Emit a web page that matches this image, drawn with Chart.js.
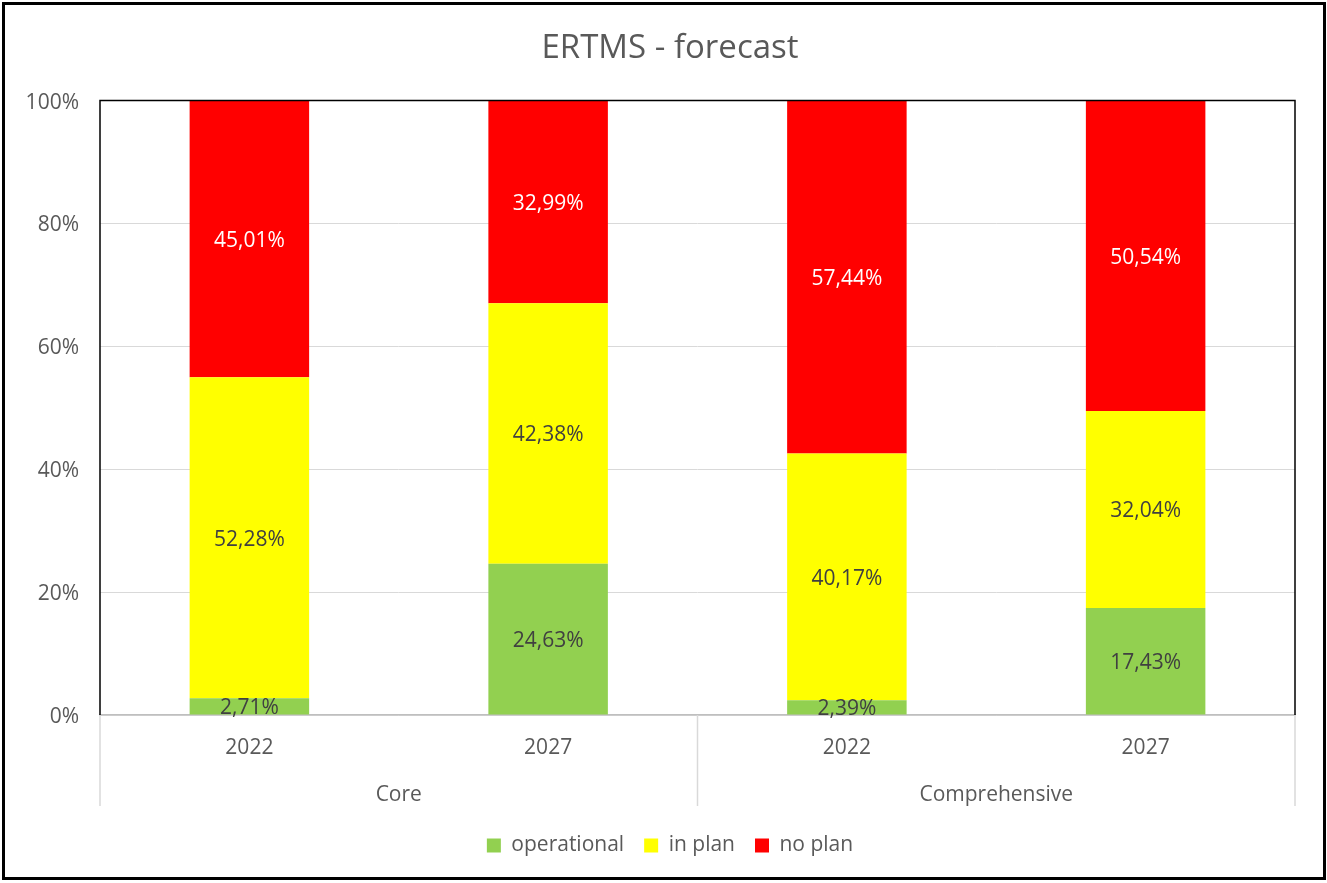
<!DOCTYPE html>
<html>
<head>
<meta charset="utf-8">
<script src="https://cdn.jsdelivr.net/npm/chart.js@4.4.0/dist/chart.umd.min.js"></script>
<style>
html,body{margin:0;padding:0;background:#fff;}
#wrap{position:absolute;left:2px;top:2px;width:1324px;height:878px;border:3px solid #000;box-sizing:border-box;background:#fff;}
#wrap canvas{display:block;}
</style>
</head>
<body>
<div id="wrap"><canvas id="c"></canvas></div>
<script>
const years=["2022","2027","2022","2027"];
const groups=["Core","Comprehensive"];
const operational=[2.71,24.63,2.39,17.43];
const inPlan=[52.28,42.38,40.17,32.04];
const noPlan=[45.01,32.99,57.44,50.54];
const yTicks=[0,20,40,60,80,100];

const FONT="'Open Sans', sans-serif";
const GREY="#595959";
const SEP_DEPTH=91; // separator lines below the plot

// value labels in the middle of each segment
const segLabels={
  id:"segLabels",
  afterDatasetsDraw(ch){
    const ctx=ch.ctx;
    ctx.save();
    ctx.font="21px "+FONT;
    ctx.textAlign="center";ctx.textBaseline="middle";
    ch.data.datasets.forEach((ds,i)=>{
      const meta=ch.getDatasetMeta(i);
      meta.data.forEach((el,j)=>{
        const v=ds.data[j];
        ctx.fillStyle=ds.labelColor;
        ctx.fillText(v.toFixed(2).replace(".",",")+"%",el.x,(el.y+el.base)/2+2);
      });
    });
    ctx.restore();
  }
};

// black frame on top/left/right of plot + group separators below axis
const frame={
  id:"frame",
  afterDraw(ch){
    const ctx=ch.ctx,a=ch.chartArea,xs=ch.scales.x;
    ctx.save();
    ctx.strokeStyle="#D9D9D9";ctx.lineWidth=1.5;
    const mid=(xs.getPixelForValue(1)+xs.getPixelForValue(2))/2;
    [xs.left,mid,xs.right].forEach(px=>{
      ctx.beginPath();ctx.moveTo(px,a.bottom);ctx.lineTo(px,a.bottom+SEP_DEPTH);ctx.stroke();
    });
    ctx.strokeStyle="#000";ctx.lineWidth=1.5;
    ctx.beginPath();
    ctx.moveTo(a.left,a.bottom);ctx.lineTo(a.left,a.top);ctx.lineTo(a.right,a.top);ctx.lineTo(a.right,a.bottom);
    ctx.stroke();
    ctx.restore();
  }
};

new Chart(document.getElementById("c"),{
  type:"bar",
  data:{
    labels:years,
    datasets:[
      {label:"operational",data:operational,backgroundColor:"#92D050",labelColor:"#404040"},
      {label:"in plan",data:inPlan,backgroundColor:"#FFFF00",labelColor:"#404040"},
      {label:"no plan",data:noPlan,backgroundColor:"#FF0000",labelColor:"#FFFFFF"}
    ]
  },
  options:{
    responsive:true,maintainAspectRatio:false,animation:false,
    datasets:{bar:{barPercentage:0.4,categoryPercentage:1,borderWidth:0}},
    layout:{padding:{left:12,right:0,top:0,bottom:11}},
    plugins:{
      title:{display:true,text:"ERTMS - forecast",color:GREY,font:{family:FONT,size:33,weight:"normal"},padding:{top:24,bottom:32}},
      legend:{position:"bottom",labels:{color:GREY,font:{family:FONT,size:21},boxWidth:14,boxHeight:14,padding:20}},
      tooltip:{enabled:false}
    },
    scales:{
      x:{stacked:true,grid:{display:false,drawTicks:false},border:{color:"#BFBFBF",width:1.5},
        ticks:{color:GREY,font:{family:FONT,size:21},padding:20},
        afterFit(s){s.height=46;}},
      x2:{type:"category",labels:groups,position:"bottom",offset:true,grid:{display:false,drawTicks:false},border:{display:false},
        ticks:{color:GREY,font:{family:FONT,size:21},padding:21},
        afterFit(s){s.height=54;}},
      y:{stacked:true,min:0,max:100,
        afterBuildTicks(s){s.ticks=yTicks.map(v=>({value:v}));},
        grid:{color:"#D9D9D9",drawTicks:false},border:{display:false},
        ticks:{color:GREY,font:{family:FONT,size:21},padding:21,labelOffset:2,callback:v=>v+"%"},
        afterFit(s){s.width=83;}},
      yR:{position:"right",display:true,grid:{display:false,drawTicks:false},border:{display:false},
        ticks:{display:false},afterFit(s){s.width=28;}}
    }
  },
  plugins:[segLabels,frame]
});
</script>
</body>
</html>
